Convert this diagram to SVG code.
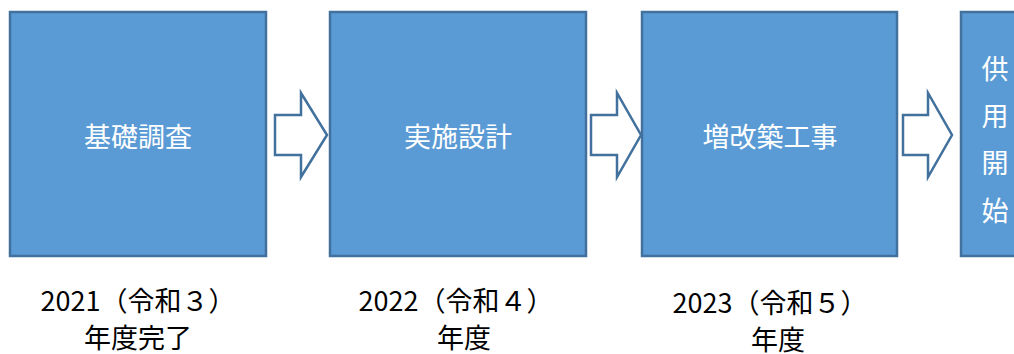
<svg xmlns="http://www.w3.org/2000/svg" width="1014" height="354" viewBox="0 0 1014 354">
<style>
.box{fill:#5B9BD5;stroke:#41719C;stroke-width:2.5}
.arr{fill:#FFFFFF;stroke:#41719C;stroke-width:2.5;stroke-linejoin:miter}
.bt{font-family:"Noto Sans CJK JP","Noto Sans",sans-serif;font-size:27px;fill:#FFFFFF;text-anchor:middle;dominant-baseline:central}
.lt{font-family:"Noto Sans CJK JP","Noto Sans",sans-serif;font-size:27px;fill:#000000;text-anchor:middle;dominant-baseline:central}
</style>
<rect width="1014" height="354" fill="#FFFFFF"/>
<g id="node1"><rect class="box" x="10" y="12" width="256" height="244"/><text class="bt" x="138" y="135">基礎調査</text></g>
<g id="node2"><rect class="box" x="330" y="12" width="256" height="244"/><text class="bt" x="458" y="135">実施設計</text></g>
<g id="node3"><rect class="box" x="642" y="12" width="255" height="244"/><text class="bt" x="770" y="135">増改築工事</text></g>
<g id="node4"><rect class="box" x="961" y="12" width="60" height="244"/>
<text class="bt" x="995" y="67">供</text><text class="bt" x="995" y="114">用</text><text class="bt" x="995" y="161">開</text><text class="bt" x="995" y="209">始</text></g>
<g id="connectors">
<polygon class="arr" points="275,115 301,115 301,93 327,135 301,177 301,155 275,155"/>
<polygon class="arr" points="591,115 617,115 617,93 641,135 617,177 617,155 591,155"/>
<polygon class="arr" points="903,115 928,115 928,93 952,135 928,177 928,155 903,155"/>
</g>
<g id="labels">
<text class="lt" x="138" y="299">2021（令和３）</text><text class="lt" x="138" y="336">年度完了</text>
<text class="lt" x="456" y="299">2022（令和４）</text><text class="lt" x="464" y="336">年度</text>
<text class="lt" x="770" y="301">2023（令和５）</text><text class="lt" x="778" y="338">年度</text>
</g>
</svg>
